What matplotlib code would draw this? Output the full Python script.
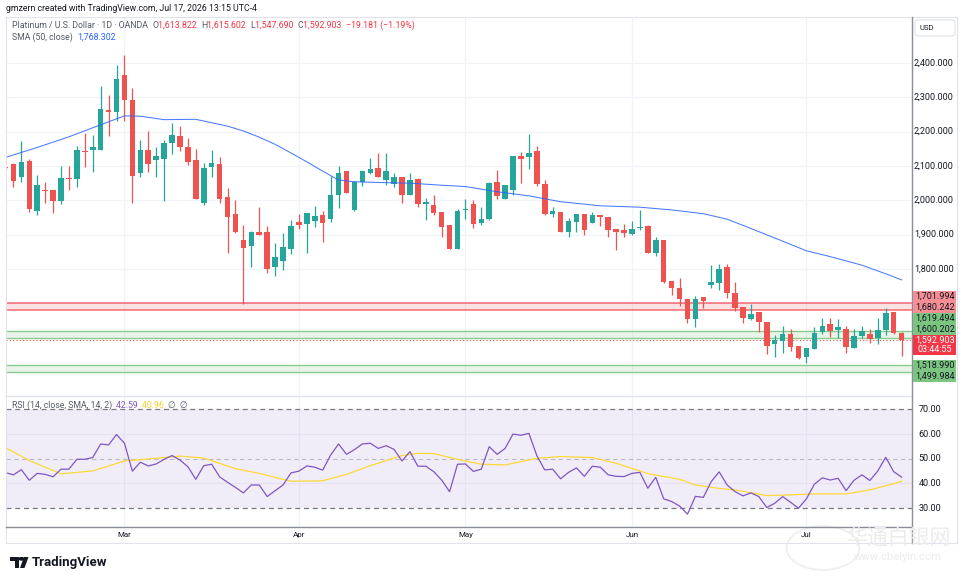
import numpy as np
import matplotlib
matplotlib.use("Agg")
import matplotlib.pyplot as plt
from matplotlib.patches import Rectangle, FancyBboxPatch, Polygon, Circle

plt.rcParams['font.family'] = ['Roboto', 'DejaVu Sans']

# ---------------- data ----------------
opens = [2098, 2106, 2067, 2115, 1970, 2028, 2029, 1999, 2066, 2063,
         2142, 2148, 2147, 2262, 2258, 2365, 2292, 2079, 2146, 2116,
         2120, 2166, 2186, 2155, 2116, 1993, 2096, 2105, 2010, 1960,
         1883, 1868, 1907, 1907, 1807, 1824, 1858, 1937, 1932, 1940,
         1958, 1945, 2015, 2085, 1972, 2054, 2081, 2094, 2059, 2047,
         2067, 2015, 2061, 1990, 1986, 1966, 1927, 1859, 1972, 1988,
         1933, 1945, 2053, 2004, 2030, 2130, 2126, 2144, 2048, 1959,
         1966, 1909, 1938, 1959, 1933, 1957, 1951, 1917, 1913, 1902,
         1920, 1925, 1848, 1883, 1765, 1746, 1712, 1653, 1717, 1752,
         1758, 1805, 1729, 1688, 1654, 1675, 1646, 1581, 1591, 1610,
         1576, 1544, 1567, 1615, 1641, 1622, 1626, 1571, 1605, 1611,
         1598, 1623, 1675, 1613.822]
highs = [2100, 2110, 2173, 2120, 2074, 2054, 2030, 2100, 2100, 2158,
         2195, 2190, 2334, 2307, 2394, 2423, 2326, 2177, 2202, 2156,
         2176, 2225, 2216, 2182, 2149, 2108, 2147, 2126, 2036, 2001,
         1928, 1912, 1980, 1925, 1875, 1905, 1943, 1960, 1963, 1984,
         1969, 2071, 2100, 2086, 2056, 2086, 2124, 2139, 2137, 2081,
         2067, 2079, 2064, 2006, 2015, 1966, 1927, 1976, 2003, 2001,
         1981, 2054, 2088, 2044, 2129, 2141, 2192, 2158, 2059, 1982,
         1966, 1948, 1961, 1959, 1966, 1957, 1952, 1917, 1930, 1940,
         1972, 1928, 1894, 1884, 1765, 1773, 1712, 1721, 1717, 1812,
         1815, 1815, 1762, 1688, 1698, 1675, 1646, 1608, 1634, 1624,
         1576, 1569, 1632, 1658, 1656, 1654, 1635, 1624, 1634, 1624,
         1658, 1685, 1675, 1615.602]
lows = [2090, 2040, 2054, 1967, 1957, 1993, 1964, 1989, 2030, 2040,
        2096, 2082, 2146, 2187, 2232, 2232, 1993, 2069, 2083, 2069,
        1999, 2136, 2145, 2103, 2003, 1986, 2067, 1991, 1848, 1904,
        1697, 1807, 1898, 1789, 1781, 1798, 1843, 1916, 1848, 1923,
        1880, 1938, 1979, 2021, 1969, 2043, 2076, 2067, 2045, 2038,
        1991, 2015, 1980, 1943, 1957, 1894, 1859, 1859, 1945, 1918,
        1928, 1943, 2003, 2004, 2016, 2051, 2092, 2043, 1956, 1952,
        1909, 1894, 1909, 1899, 1933, 1925, 1894, 1855, 1894, 1899,
        1914, 1846, 1838, 1758, 1724, 1692, 1642, 1632, 1685, 1744,
        1739, 1715, 1678, 1642, 1651, 1617, 1551, 1545, 1556, 1561,
        1538, 1525, 1567, 1611, 1603, 1598, 1556, 1571, 1600, 1585,
        1581, 1608, 1610, 1547.690]
closes = [2093, 2057, 2111, 1975, 2045, 2027, 1999, 2066, 2061, 2146,
          2140, 2155, 2267, 2258, 2352, 2292, 2071, 2146, 2107, 2129,
          2167, 2190, 2155, 2111, 2005, 2095, 2109, 2005, 1952, 1907,
          1862, 1909, 1900, 1801, 1835, 1863, 1925, 1929, 1963, 1954,
          1933, 2015, 2081, 2022, 2054, 2085, 2090, 2067, 2085, 2067,
          2015, 2059, 1989, 1995, 1964, 1923, 1859, 1969, 1974, 1931,
          1946, 2050, 2013, 2044, 2129, 2121, 2138, 2048, 1961, 1969,
          1909, 1940, 1959, 1914, 1957, 1950, 1914, 1909, 1904, 1916,
          1921, 1848, 1883, 1763, 1746, 1714, 1655, 1712, 1708, 1762,
          1800, 1729, 1685, 1658, 1669, 1647, 1577, 1593, 1612, 1574,
          1540, 1569, 1613, 1634, 1620, 1630, 1574, 1605, 1619, 1595,
          1622, 1672, 1612.084, 1592.903]

sma_idx = [0, 4, 8, 12, 15, 17, 20, 24, 28, 30, 32, 34, 36, 38, 40, 42, 44,
           47, 51, 55, 58, 62, 66, 70, 75, 80, 84, 88, 91, 94, 98, 101, 104,
           108, 111, 113]
sma_val = [2125, 2154, 2185, 2220, 2246, 2245, 2235, 2236, 2216, 2202, 2184,
           2163, 2138, 2112, 2085, 2059, 2054, 2052, 2050, 2044, 2040, 2025,
           2013, 1996, 1984, 1980, 1972, 1961, 1945, 1918, 1881, 1853, 1836,
           1811, 1786, 1768.302]

rsi = [44.4, 43.5, 45.6, 41.3, 44.1, 43.7, 42.7, 45.8, 45.8, 49.8,
       49.8, 50.5, 56.0, 55.6, 59.8, 56.3, 45.0, 48.6, 47.1, 47.9,
       49.8, 51.3, 49.5, 46.8, 41.7, 47.2, 47.8, 42.7, 40.5, 38.4,
       36.2, 39.4, 39.4, 34.7, 37.1, 39.4, 44.3, 45.0, 47.1, 46.6,
       45.4, 51.5, 56.0, 51.8, 53.7, 56.0, 56.3, 54.2, 55.3, 53.8,
       49.1, 52.9, 47.0, 47.0, 44.8, 41.4, 36.7, 47.8, 47.9, 44.9,
       45.8, 54.9, 51.8, 54.2, 60.0, 59.5, 60.3, 51.3, 45.5, 45.8,
       41.9, 44.5, 46.3, 42.9, 47.0, 46.6, 43.5, 42.9, 42.8, 44.1,
       44.5, 38.1, 42.5, 33.8, 32.7, 30.9, 27.6, 34.8, 34.4, 40.8,
       44.7, 39.4, 36.7, 35.0, 36.2, 34.7, 30.3, 32.0, 34.7, 32.4,
       30.0, 33.8, 39.7, 42.3, 41.4, 42.1, 37.1, 41.3, 43.5, 41.2,
       45.1, 50.6, 44.8, 42.59]

rsi_sma_idx = [0, 3, 7, 11, 15, 19, 22, 25, 29, 32, 36, 40, 43, 46, 50, 52,
               54, 57, 60, 63, 67, 70, 74, 77, 81, 85, 87, 90, 92, 96, 99,
               102, 106, 109, 112, 113]
rsi_sma_val = [54.5, 49.3, 43.9, 45.1, 49.1, 50.2, 51.1, 50.3, 46.0, 44.1,
               40.9, 41.1, 43.7, 47.2, 51.3, 52.2, 52.1, 49.8, 47.8, 47.5,
               50.2, 50.9, 50.5, 48.2, 44.0, 41.7, 39.4, 38.0, 37.4, 35.1,
               35.4, 35.8, 35.8, 37.4, 39.9, 40.96]

month_labels = ["Mar", "Apr", "May", "Jun", "Jul"]
month_idx = [15, 37, 58, 79, 101]

price_ticks = [2400, 2300, 2200, 2100, 2000, 1900, 1800]
grid_levels = [1500, 1600, 1700, 1800, 1900, 2000, 2100, 2200, 2300, 2400]
rsi_ticks = [70, 60, 50, 40, 30]

red_zone = [1680.242, 1701.994]
green_zones = [[1600.202, 1619.494], [1499.984, 1518.990]]
countdown = "03:44:55"
sma_last = 1768.302
rsi_last = 42.59
rsi_sma_last = 40.96

# ---------------- styles ----------------
W, H = 964, 582
UP, DN = '#26a69a', '#ef5350'
GRID = '#f0f3fa'
TXT = '#131722'
GRAY = '#555a66'

def fx(px):
    return px / W

def fy(py):
    return 1 - py / H

fig = plt.figure(figsize=(W / 100, H / 100), dpi=100)
fig.patch.set_facecolor('white')

L, R = 6, 912
ax = fig.add_axes([fx(L), fy(396), fx(R - L), (396 - 17) / H])
ra = fig.add_axes([fx(L), fy(527), fx(R - L), (527 - 396) / H])

xl = ((L - 5.5) / 7.93, (R - 5.5) / 7.93)
for a in (ax, ra):
    a.set_xlim(*xl)
    a.set_xticks([])
    a.set_yticks([])
    for s in a.spines.values():
        s.set_visible(False)
    a.set_facecolor('white')
    for m in month_idx:
        a.axvline(m, color=GRID, lw=0.9, zorder=0)

ax.set_ylim(1430, 2534)
ra.set_ylim(22.4, 75.4)

for g in grid_levels:
    ax.axhline(g, color=GRID, lw=0.9, zorder=0)

o = np.array(opens, float); h = np.array(highs, float)
l = np.array(lows, float); c = np.array(closes, float)
idx = np.arange(len(o))
cols = np.where(c >= o, UP, DN)

# zones
ax.axhspan(red_zone[0], red_zone[1], color='#f23645', alpha=0.14, lw=0, zorder=1)
for v in red_zone:
    ax.axhline(v, color='#f7525f', lw=1.1, alpha=0.85, zorder=1.5)
for z in green_zones:
    ax.axhspan(z[0], z[1], color='#4caf50', alpha=0.12, lw=0, zorder=1)
    for v in z:
        ax.axhline(v, color='#81c784', lw=1.0, alpha=0.9, zorder=1.5)

ax.axhline(c[-1], color=DN, lw=0.8, ls=(0, (1, 2)), zorder=1.6)

# candles
ax.vlines(idx, l, h, colors=cols, lw=0.9, zorder=3)
ax.bar(idx, np.maximum(np.abs(c - o), 2.5), bottom=np.minimum(o, c), width=0.7,
       color=cols, lw=0, zorder=4)

ax.plot(sma_idx, sma_val, color='#2962ff', lw=0.75, alpha=0.85, zorder=5)

# RSI pane
ra.axhspan(30, 70, color='#7e57c2', alpha=0.1, lw=0, zorder=0)
for v in (60, 40):
    ra.axhline(v, color='#e6e0f3', lw=0.9, zorder=0.5)
for v in (70, 30):
    ra.axhline(v, color='#787b86', lw=0.9, ls=(0, (4, 3)), zorder=1)
ra.axhline(50, color='#9598a1', lw=0.8, ls=(0, (4, 3)), alpha=0.6, zorder=1)
ra.plot(rsi_sma_idx, rsi_sma_val, color='#fdd835', lw=0.9, zorder=2)
ra.plot(idx, rsi, color='#7e57c2', lw=0.9, zorder=3)

# frame lines
fig.add_artist(plt.Line2D([fx(L), fx(957)], [fy(17), fy(17)], color='#e0e3eb', lw=0.8))
fig.add_artist(plt.Line2D([fx(L), fx(L)], [fy(17), fy(543)], color='#e0e3eb', lw=0.8))
fig.add_artist(plt.Line2D([fx(957), fx(957)], [fy(17), fy(543)], color='#e0e3eb', lw=0.8))
fig.add_artist(plt.Line2D([fx(L), fx(957)], [fy(543), fy(543)], color='#e0e3eb', lw=0.8))
fig.add_artist(plt.Line2D([fx(L), fx(R)], [fy(396), fy(396)], color='#e0e3eb', lw=1.0))
fig.add_artist(plt.Line2D([fx(L), fx(R)], [fy(527), fy(527)], color='#8a8e99', lw=1.0))
fig.add_artist(plt.Line2D([fx(R), fx(R)], [fy(17), fy(543)], color='#8a8e99', lw=1.0))

# month labels
for lab, m in zip(month_labels, month_idx):
    xp = ax.transData.transform((m, 0))[0]
    fig.text(xp / W, fy(535), lab, ha='center', va='center', fontsize=5.8, color=TXT)

# price axis labels
def ypix(axis, val):
    return H - axis.transData.transform((0, val))[1]

AX_CX = 934
FS_AX = 6.5
for t in price_ticks:
    fig.text(fx(AX_CX), fy(ypix(ax, t)), f"{t:,.3f}", ha='center', va='center',
             fontsize=FS_AX, color=TXT)
for t in rsi_ticks:
    fig.text(fx(AX_CX - 4), fy(ypix(ra, t)), f"{t:.2f}", ha='center', va='center',
             fontsize=FS_AX, color=TXT)

# USD box
fig.add_artist(FancyBboxPatch((fx(915), fy(36)), fx(40), 16 / H,
                              boxstyle='round,pad=0,rounding_size=0.004',
                              fc='white', ec='#e0e3eb', lw=0.8, transform=fig.transFigure))
fig.text(fx(920), fy(28), "USD", ha='left', va='center', fontsize=5.5, color=TXT)

# coloured price labels with stacking
LH = 11.0
def box(yc, fc, hgt=LH):
    fig.add_artist(Rectangle((fx(913), fy(yc + hgt / 2)), fx(43), hgt / H,
                             fc=fc, ec='none', transform=fig.transFigure, zorder=5))

def label_text(yc, text, tc):
    fig.text(fx(935), fy(yc), text, ha='center', va='center', fontsize=FS_AX,
             color=tc, zorder=7)

cur_y = ypix(ax, c[-1])
box(cur_y + 4.5, '#f23645', hgt=20)
label_text(cur_y, f"{c[-1]:,.3f}", 'white')
label_text(cur_y + 9, countdown, 'white')

above = sorted([(red_zone[1], '#f68f95'), (red_zone[0], '#f68f95'),
                (green_zones[0][1], '#7cc581'), (green_zones[0][0], '#7cc581')],
               key=lambda t: t[0])
top = cur_y - LH / 2
for val, col in above:
    yc = min(ypix(ax, val), top - LH / 2)
    box(yc, col)
    label_text(yc, f"{val:,.3f}", TXT)
    top = yc - LH / 2

bottom = cur_y + 14.5
below = sorted([(green_zones[1][1], '#7cc581'), (green_zones[1][0], '#7cc581')],
               key=lambda t: -t[0])
for val, col in below:
    yc = max(ypix(ax, val), bottom + LH / 2)
    box(yc, col)
    label_text(yc, f"{val:,.3f}", TXT)
    bottom = yc + LH / 2

# header texts
renderer = fig.canvas.get_renderer()
def chain(x, y, parts, size=6.3):
    for text, col in parts:
        t = fig.text(fx(x), fy(y), text, ha='left', va='center', fontsize=size, color=col)
        x += t.get_window_extent(renderer).width

fig.text(fx(6), fy(8.5), "gmzern created with TradingView.com, Jul 17, 2026 13:15 UTC-4",
         ha='left', va='center', fontsize=6.3, color=TXT)

chg = c[-1] - c[-2]
pct = chg / c[-2] * 100
RED = '#f23645'
chain(12, 25.5, [("Platinum / U.S. Dollar \u00b7 1D \u00b7 OANDA  ", GRAY),
                 ("O", GRAY), (f"{o[-1]:,.3f}  ", RED),
                 ("H", GRAY), (f"{h[-1]:,.3f}  ", RED),
                 ("L", GRAY), (f"{l[-1]:,.3f}  ", RED),
                 ("C", GRAY), (f"{c[-1]:,.3f}  ", RED),
                 (f"\u2212{abs(chg):.3f} (\u2212{abs(pct):.2f}%)", RED)])
chain(12, 37, [("SMA (50, close)  ", GRAY), (f"{sma_last:,.3f}", '#2962ff')])
chain(12, 405, [("RSI (14, close, SMA, 14, 2)  ", GRAY), (f"{rsi_last:.2f}  ", '#7e57c2'),
                (f"{rsi_sma_last:.2f}  ", '#f5d130'), ("\u2205  \u2205", GRAY)])

# TradingView logo
fig.add_artist(Polygon([(fx(10), fy(557)), (fx(19), fy(557)), (fx(19), fy(568)),
                        (fx(15.5), fy(568)), (fx(15.5), fy(560.5)), (fx(10), fy(560.5))],
                       closed=True, fc='#131722', ec='none', transform=fig.transFigure))
fig.add_artist(Circle((fx(21.5), fy(558.8)), 1.9 / H, fc='#131722', ec='none',
                      transform=fig.transFigure))
fig.add_artist(Polygon([(fx(24), fy(557)), (fx(28.5), fy(557)), (fx(24.5), fy(568)),
                        (fx(20), fy(568))], closed=True, fc='#131722', ec='none',
                       transform=fig.transFigure))
fig.text(fx(32), fy(562.5), "TradingView", ha='left', va='center', fontsize=9.5,
         fontweight='bold', color='#131722')

# faint watermark
fig.add_artist(Circle((fx(823), fy(548)), 22 / H, fc='none', ec='#eeeeee', lw=1.2,
                      transform=fig.transFigure))
fig.text(fx(898), fy(538), "华通白银网", ha='center', va='center', fontsize=15,
         color='#ececec', family=['Noto Sans CJK SC', 'DejaVu Sans'])
fig.text(fx(898), fy(557), "www.cbaiyin.com", ha='center', va='center', fontsize=8,
         color='#ececec')

fig.savefig('out.png', dpi=100, facecolor='white')
